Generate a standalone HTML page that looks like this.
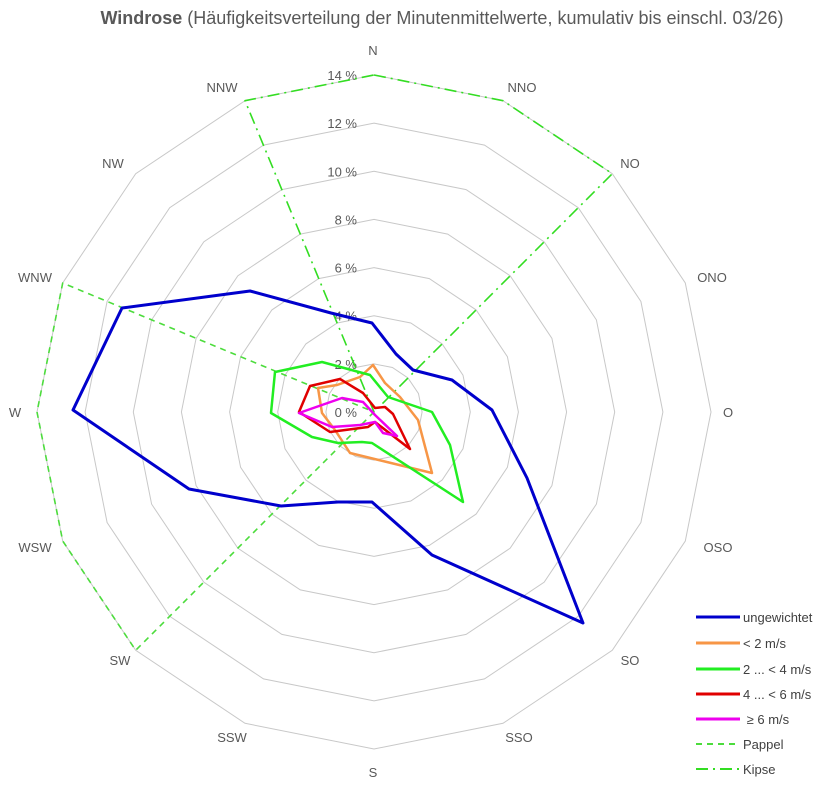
<!DOCTYPE html>
<html><head><meta charset="utf-8"><style>
body{margin:0;background:#fff;width:837px;height:785px;overflow:hidden}
svg{display:block;font-family:"Liberation Sans",sans-serif}
</style></head><body>
<svg id="s" width="837" height="785" viewBox="0 0 837 785"></svg>
<script>
const cx=374,cy=412,R=337/14;
const s=document.getElementById('s');
let h='<text x="442" y="24" text-anchor="middle" font-size="18" fill="#595959"><tspan font-weight="bold">Windrose</tspan> (Häufigkeitsverteilung der Minutenmittelwerte, kumulativ bis einschl. 03/26)</text>';
function pt(i,r){const a=i*Math.PI/8;return [cx+r*Math.sin(a),cy-r*Math.cos(a)];}
for(let k=1;k<=7;k++){let p=[];for(let i=0;i<16;i++)p.push(pt(i,k*2*R).map(v=>v.toFixed(1)).join(','));h+='<polygon points="'+p.join(' ')+'" fill="none" stroke="#c8c8c8" stroke-width="1"/>';}
const names=["N","NNO","NO","ONO","O","OSO","SO","SSO","S","SSW","SW","WSW","W","WNW","NW","NNW"];
const lp=[[373,50],[522,87],[630,163],[712,277],[728,412],[718,547],[630,660],[519,737],[373,772],[232,737],[120,660],[35,547],[15,412],[35,277],[113,163],[222,87]];
for(let i=0;i<16;i++){h+='<text x="'+lp[i][0]+'" y="'+(lp[i][1]+5)+'" text-anchor="middle" font-size="13" fill="#595959">'+names[i]+'</text>';}
for(let k=0;k<=7;k++){h+='<text x="357" y="'+(cy-k*2*R+5)+'" text-anchor="end" font-size="13" fill="#595959">'+(k*2)+' %</text>';}
function poly(pts,col,w,dash){h+='<polygon points="'+pts+'" fill="none" stroke="'+col+'" stroke-width="'+w+'" stroke-linejoin="round"'+(dash?' stroke-dasharray="'+dash+'"':'')+'/>';}
function val(arr){return arr.map((v,i)=>pt(i,v*R).map(x=>x.toFixed(1)).join(',')).join(' ');}
const Z=[0,0,0,0,0,0,0,0,0,0,0,0,0,0,0,0];
let pap=Z.slice();pap[10]=pap[11]=pap[12]=pap[13]=14;
let kip=Z.slice();kip[15]=kip[0]=kip[1]=kip[2]=14;
poly(val(pap),"#4cdc3c",1.6,"6 5");
poly(val(kip),"#33dd22",1.6,"12 5 2 5");
poly("373,365 385,383 400,397 418,420 432,473 350,453 335,430 322,413 318,388 337,385 360,377","#f79646",2.5);
poly("370,375 388,397 432,412 450,445 463,502 372,443 362,442 338,443 312,437 271,413 275,372 322,362","#22ee22",2.5);
poly("310,386 340,379 363,393 375,408 385,407 393,414 410,449 375,422 368,427 330,432 299,412","#e00000",2.5);
poly("299,413 342,398 363,402 375,415 397,436 383,433 375,422 360,425 332,427","#ee00ee",2.5);
poly("372,323 396,354 413,370 452,380 492,410 527,478 583,623 432,555 372,502 338,502 281,506 189,489 73,410 122,308 250,291 331,313","#0000cc",3);
const leg=[["ungewichtet","#0000cc",3,""],["< 2 m/s","#f79646",3,""],["2 ... < 4 m/s","#22ee22",3,""],["4 ... < 6 m/s","#e00000",3,""],[" ≥ 6 m/s","#ee00ee",3,""],["Pappel","#4cdc3c",2,"6 5"],["Kipse","#33dd22",2,"12 5 2 5"]];
const ys=[617,643,669,694,719,744,769];
leg.forEach((l,i)=>{h+='<line x1="696" y1="'+ys[i]+'" x2="740" y2="'+ys[i]+'" stroke="'+l[1]+'" stroke-width="'+l[2]+'"'+(l[3]?' stroke-dasharray="'+l[3]+'"':'')+'/><text x="743" y="'+(ys[i]+5)+'" font-size="13" fill="#404040" xml:space="preserve">'+l[0].replace('<','&lt;')+'</text>';});
s.innerHTML=h;
</script>
</body></html>
